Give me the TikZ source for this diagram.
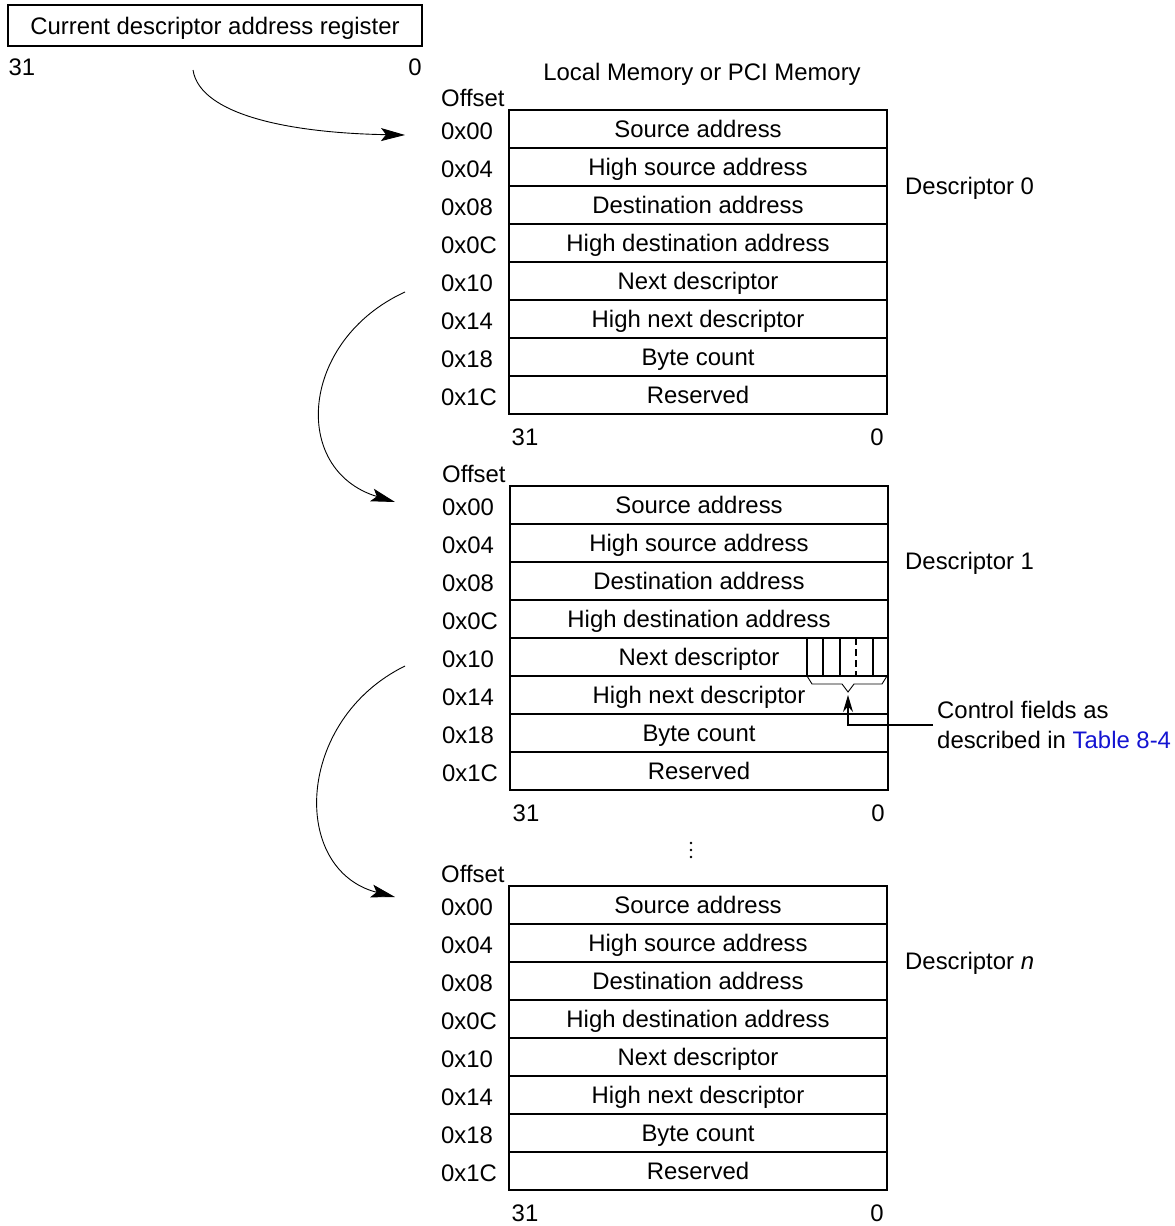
\documentclass[tikz,border=0pt]{standalone}
\usepackage{fontspec}
\setmainfont{Liberation Sans}
\usetikzlibrary{arrows.meta}
\definecolor{tblblue}{RGB}{20,20,210}
\newcommand\mkdesc[5]{%
  \foreach \t [count=\i] in {Source address,High source address,Destination address,High destination address,Next descriptor,High next descriptor,Byte count,Reserved}
    \node[rowbox, minimum height=#4pt] (#1r\i) at ({#2+189},{#3+(\i-0.5)*#4}) {\t};
  \foreach \o [count=\i] in {0x00,0x04,0x08,0x0C,0x10,0x14,0x18,0x1C}
    \node[lbl, anchor=west] (#1o\i) at (#5,{#3+(\i-0.5)*#4+2}) {\o};
  \node[lbl, anchor=west] (#1off) at (#5,{#3-12}) {Offset};
  \node[lbl] (#1msb) at ({#2+16},{#3+8*#4+23}) {31};
  \node[lbl] (#1lsb) at ({#2+368},{#3+8*#4+23}) {0};
}
\begin{document}
\begin{tikzpicture}[x=1pt,y=-1pt,
  font=\fontsize{23.9}{30}\selectfont,
  rowbox/.style={draw, line width=2pt, minimum width=378pt, inner sep=0pt, anchor=center, text height=17pt, text depth=0pt},
  lbl/.style={inner sep=0pt, text height=17pt, text depth=0pt},
  curvearrow/.style={line width=0.9pt, -{Stealth[length=24pt,width=13pt,inset=5pt]}}]
\useasboundingbox (0,0) rectangle (1175,1226);
% register
\node[draw, line width=2.5pt, minimum width=414pt, minimum height=41pt, inner sep=0pt, text height=17pt, text depth=0pt] (reg) at (215,25.5) {Current descriptor address register};
\node[lbl] (regmsb) at (22,67) {31};
\node[lbl] (reglsb) at (415,67) {0};
\node[lbl] (title) at (702,72) {Local Memory or PCI Memory};
% descriptors
\mkdesc{d0}{509}{110}{38}{441}
\mkdesc{d1}{510}{486}{38}{442}
\mkdesc{dn}{509}{886}{38}{441}
\node[lbl, anchor=west] (d0name) at (905,186) {Descriptor 0};
\node[lbl, anchor=west] (d1name) at (905,561) {Descriptor 1};
\node[lbl, anchor=west] (dnname) at (905,961) {Descriptor \textit{n}};
% ellipsis
\foreach \yy in {843,850,857} \fill (691,\yy) circle (1.3pt);
% curved arrows
\coordinate (a1s) at (193,70);
\coordinate (a1e) at (405,135);
\coordinate (a2s) at (405,292);
\coordinate (a2e) at (395,502);
\coordinate (a3s) at (405,666);
\coordinate (a3e) at (395,897);
\draw[curvearrow] (a1s) .. controls (200,115) and (290,133) .. (a1e);
\draw[curvearrow] (a2s) .. controls (300,340) and (290,470) .. (a2e);
\draw[curvearrow] (a3s) .. controls (295,720) and (290,870) .. (a3e);
% control fields
\foreach \xx in {807,823,840,873} \draw[line width=1.6pt] (\xx,638) -- (\xx,676);
\draw[line width=1.6pt, dash pattern=on 7pt off 4pt] (856,638) -- (856,676);
\draw[line width=0.9pt] (807,676) -- (812,684) -- (842,684) -- (848,692) -- (854,684) -- (882,684) -- (887,676);
\coordinate (ctip) at (848,695);
\node[inner sep=0pt, anchor=west, align=left] (ctl) at (937,725) {Control fields as\\described in \textcolor{tblblue}{Table 8-4}};
\draw[line width=1.2pt, -{Stealth[length=17pt,width=10pt]}] ([xshift=-4pt]ctl.west) -| (ctip);
\end{tikzpicture}
\end{document}
